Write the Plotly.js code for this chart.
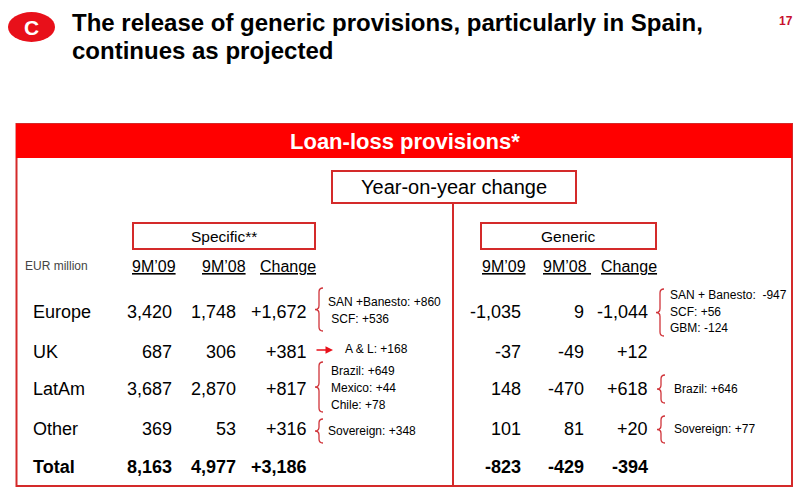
<!DOCTYPE html>
<html><head><meta charset="utf-8">
<script src="https://cdn.plot.ly/plotly-3.0.1.min.js"></script>
<style>html,body{margin:0;padding:0;background:#fff}</style>
</head><body><div id="chart" style="width:800px;height:496px"></div>
<script>
// ---------- data ----------
const slideTitle = ['The release of generic provisions, particularly in Spain,', 'continues as projected'];
const badgeLetter = 'C';
const pageNumber = '17';
const tableTitle = 'Loan-loss provisions*';
const groupTitle = 'Year-on-year change';
const blockTitles = ['Specific**', 'Generic'];
const unitLabel = 'EUR million';
const headersSpecific = ['9M\u201909', '9M\u201908', 'Change'];
const headersGeneric = ['9M\u201909', '9M\u201908\u00a0', 'Change'];
const regions = ['Europe', 'UK', 'LatAm', 'Other', 'Total'];
const specific09 = [3420, 687, 3687, 369, 8163];
const specific08 = [1748, 306, 2870, 53, 4977];
const specificChange = [1672, 381, 817, 316, 3186];
const generic09 = [-1035, -37, 148, 101, -823];
const generic08 = [9, -49, -470, 81, -429];
const genericChange = [-1044, 12, 618, 20, -394];
const specificNotes = [
  ['SAN +Banesto: +860', '\u00a0SCF: +536'],
  ['A & L: +168'],
  ['Brazil: +649', 'Mexico: +44', 'Chile: +78'],
  ['Sovereign: +348'],
  []
];
const genericNotes = [
  ['SAN + Banesto:\u00a0 -947', 'SCF: +56', 'GBM: -124'],
  [],
  ['Brazil: +646'],
  ['Sovereign: +77'],
  []
];

// ---------- layout geometry (pixel-like axis units) ----------
const RED = '#ff0000', BORDER = '#d42a2a', BRACE = '#d0343a';
const FONT = 'Liberation Sans, Arial, sans-serif';
const rowY = [312, 352, 389, 429, 467];
const specColRight = [174, 238, 309];
const genColRight = [523, 586, 650];
const specHeadX = [153.5, 223.5, 287.5];
const genHeadX = [504, 566.5, 629];
const headY = 266;
const labelX = 31;
const specNoteLayout = [
  {x: 326, ys: [302, 319], brace: [319, 288, 331]},
  {x: 343, ys: [349], arrow: [315, 333, 350]},
  {x: 329, ys: [371, 388, 405], brace: [319, 362, 412]},
  {x: 326, ys: [431], brace: [319, 419, 443]},
  null
];
const genNoteLayout = [
  {x: 668, ys: [295, 312, 328], brace: [660, 289, 336]},
  null,
  {x: 672, ys: [389], brace: [661, 375, 403]},
  {x: 672, ys: [429], brace: [661, 416, 443]},
  null
];

function fmt(v, sign) {
  const s = Math.abs(v).toLocaleString('en-US');
  if (v < 0) return '-' + s;
  return (sign ? '+' : '') + s;
}
function ann(x, y, text, opts) {
  return Object.assign({x: x, y: y, xref: 'x', yref: 'y', text: text, showarrow: false,
    xanchor: 'left', yanchor: 'middle', font: {family: FONT, size: 18, color: '#000'}}, opts || {});
}
function bracePath(x, y1, y2) {
  const ym = (y1 + y2) / 2;
  return `M ${x+4},${y1} Q ${x},${y1} ${x},${y1+4} L ${x},${ym-4} Q ${x},${ym} ${x-4},${ym} ` +
         `Q ${x},${ym} ${x},${ym+4} L ${x},${y2-4} Q ${x},${y2} ${x+4},${y2}`;
}

const annotations = [];
const shapes = [];

// title area
shapes.push({type: 'circle', xref: 'x', yref: 'y', x0: 8, x1: 55, y0: 12, y1: 42,
  fillcolor: '#e8101a', line: {width: 0}});
annotations.push(ann(31.5, 27.5, '<b>' + badgeLetter + '</b>', {xanchor: 'center',
  font: {family: FONT, size: 21, color: '#fff'}}));
const titleY = [22, 50];
slideTitle.forEach((t, i) => annotations.push(ann(70, titleY[i], '<b>' + t + '</b>',
  {font: {family: FONT, size: 24, color: '#000'}})));
annotations.push(ann(786, 21, '<b>' + pageNumber + '</b>', {xanchor: 'center',
  font: {family: FONT, size: 12, color: '#c8102e'}}));

// table frame
shapes.push({type: 'rect', xref: 'x', yref: 'y', x0: 16.5, x1: 792, y0: 124, y1: 486,
  line: {color: BORDER, width: 2}, fillcolor: 'rgba(0,0,0,0)'});
shapes.push({type: 'rect', xref: 'x', yref: 'y', x0: 16, x1: 792, y0: 124, y1: 158,
  fillcolor: RED, line: {width: 0}});
annotations.push(ann(405, 141, '<b>' + tableTitle + '</b>', {xanchor: 'center',
  font: {family: FONT, size: 22, color: '#fff'}}));
shapes.push({type: 'rect', xref: 'x', yref: 'y', x0: 332, x1: 576, y0: 171, y1: 203,
  line: {color: BORDER, width: 2}});
annotations.push(ann(454, 187, groupTitle, {xanchor: 'center', font: {family: FONT, size: 20, color: '#000'}}));
shapes.push({type: 'line', xref: 'x', yref: 'y', x0: 453, x1: 453, y0: 203, y1: 486,
  line: {color: BORDER, width: 2}});
[[133, 315], [481, 656]].forEach((b, i) => {
  shapes.push({type: 'rect', xref: 'x', yref: 'y', x0: b[0], x1: b[1], y0: 223, y1: 249,
    line: {color: BORDER, width: 2}});
  annotations.push(ann((b[0] + b[1]) / 2, 236, blockTitles[i], {xanchor: 'center',
    font: {family: FONT, size: 15.5, color: '#000'}}));
});
annotations.push(ann(23, headY, unitLabel, {font: {family: FONT, size: 12, color: '#444'}}));
headersSpecific.forEach((h, i) => annotations.push(ann(specHeadX[i], headY, '<u>' + h + '</u>',
  {xanchor: 'center', font: {family: FONT, size: 16, color: '#000'}})));
headersGeneric.forEach((h, i) => annotations.push(ann(genHeadX[i], headY, '<u>' + h + '</u>',
  {xanchor: 'center', font: {family: FONT, size: 16, color: '#000'}})));

// rows
regions.forEach((r, i) => {
  const bold = i === regions.length - 1;
  const w = s => bold ? '<b>' + s + '</b>' : s;
  annotations.push(ann(labelX, rowY[i], w(r)));
  const specVals = [fmt(specific09[i]), fmt(specific08[i]), fmt(specificChange[i], true)];
  const genVals = [fmt(generic09[i]), fmt(generic08[i]), fmt(genericChange[i], true)];
  specVals.forEach((v, j) => annotations.push(ann(specColRight[j], rowY[i], w(v), {xanchor: 'right'})));
  genVals.forEach((v, j) => annotations.push(ann(genColRight[j], rowY[i], w(v), {xanchor: 'right'})));

  [[specificNotes[i], specNoteLayout[i]], [genericNotes[i], genNoteLayout[i]]].forEach(([notes, L]) => {
    if (!L || !notes.length) return;
    notes.forEach((n, k) => annotations.push(ann(L.x, L.ys[k], n,
      {font: {family: FONT, size: 12, color: '#000'}})));
    if (L.brace) {
      shapes.push({type: 'path', xref: 'x', yref: 'y', path: bracePath(L.brace[0], L.brace[1], L.brace[2]),
        line: {color: BRACE, width: 1.3}});
    }
    if (L.arrow) {
      annotations.push({x: L.arrow[1], y: L.arrow[2], ax: L.arrow[0], ay: L.arrow[2],
        xref: 'x', yref: 'y', axref: 'x', ayref: 'y', text: '', showarrow: true,
        arrowhead: 2, arrowsize: 1, arrowwidth: 1.5, arrowcolor: '#e8101a'});
    }
  });
});

const layout = {
  width: 800, height: 496,
  margin: {l: 0, r: 0, t: 0, b: 0},
  paper_bgcolor: '#fff', plot_bgcolor: '#fff',
  xaxis: {range: [0, 800], visible: false, fixedrange: true},
  yaxis: {range: [496, 0], visible: false, fixedrange: true},
  showlegend: false,
  shapes: shapes,
  annotations: annotations
};
Plotly.newPlot('chart', [], layout, {staticPlot: true, displayModeBar: false});
</script></body></html>
